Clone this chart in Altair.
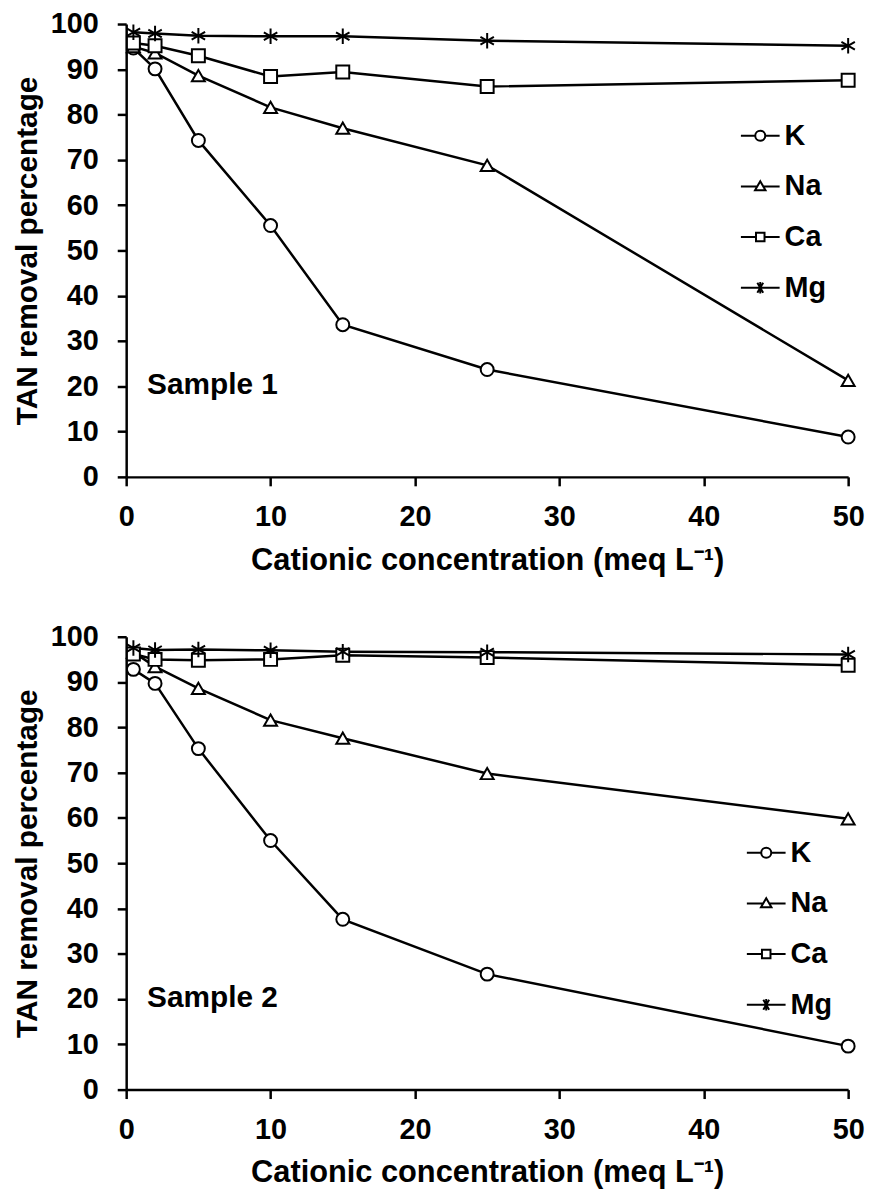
import altair as alt
import pandas as pd

conc = [0.5, 2, 5, 10, 15, 25, 50]
ions = ["K", "Na", "Ca", "Mg"]

s1_K = [94.7, 90.1, 74.3, 55.5, 33.6, 23.7, 8.8]
s1_Na = [95.0, 93.6, 88.6, 81.6, 77.0, 68.8, 21.3]
s1_Ca = [95.8, 95.2, 93.0, 88.4, 89.4, 86.2, 87.6]
s1_Mg = [98.2, 97.9, 97.4, 97.3, 97.3, 96.3, 95.2]

s2_K = [92.8, 89.7, 75.3, 55.0, 37.6, 25.5, 9.6]
s2_Na = [96.6, 93.4, 88.6, 81.6, 77.6, 69.8, 59.8]
s2_Ca = [96.2, 95.0, 94.8, 95.0, 95.9, 95.4, 93.7]
s2_Mg = [97.5, 97.1, 97.2, 97.0, 96.7, 96.6, 96.1]

x_ticks = [0, 10, 20, 30, 40, 50]
y_ticks = [0, 10, 20, 30, 40, 50, 60, 70, 80, 90, 100]

FONT = "Liberation Sans"
X_TITLE = "Cationic concentration (meq L\u207b\u00b9)"
Y_TITLE = "TAN removal percentage"

STAR = "M0,-1.2L0,1.2M-1.04,-0.6L1.04,0.6M-1.04,0.6L1.04,-0.6"
plot_shapes = ["circle", "triangle-up", "square", STAR]

r = 0.26
LEG_K = (f"M-1,0L-{r},0M{r},0L1,0M{r},0A{r},{r},0,1,1,-{r},0A{r},{r},0,1,1,{r},0Z")
LEG_NA = "M-1,0L-0.15,0M0.15,0L1,0M0,-0.27L0.27,0.2L-0.27,0.2Z"
LEG_CA = "M-1,0L-0.22,0M0.22,0L1,0M-0.22,-0.22L0.22,-0.22L0.22,0.22L-0.22,0.22Z"
LEG_MG = "M-1,0L1,0M-0.15,-0.26L0.15,0.26M-0.15,0.26L0.15,-0.26M0,-0.3L0,0.3"
legend_shapes = [LEG_K, LEG_NA, LEG_CA, LEG_MG]


def make_df(series):
    rows = []
    for ion, vals in zip(ions, series):
        for c, v in zip(conc, vals):
            rows.append({"conc": c, "ion": ion, "val": v})
    return pd.DataFrame(rows)


def panel(df, label, leg_x, leg_y):
    base = alt.Chart(df)
    x = alt.X("conc:Q", scale=alt.Scale(domain=[0, 50], nice=False),
              axis=alt.Axis(values=x_ticks, title=X_TITLE, labelFlush=False,
                            labelOverlap=False, titlePadding=14,
                            titleFontSize=31, labelPadding=17))
    y = alt.Y("val:Q", scale=alt.Scale(domain=[0, 100], nice=False),
              axis=alt.Axis(values=y_ticks, title=Y_TITLE, titlePadding=8,
                            labelPadding=19))
    line = base.mark_line(color="black", strokeWidth=2.5).encode(
        x=x, y=y, detail="ion:N")
    pts = base.mark_point(filled=True, fill="white", stroke="black",
                          strokeWidth=2, size=170, opacity=1).encode(
        x=x, y=y,
        shape=alt.Shape("ion:N", scale=alt.Scale(domain=ions, range=plot_shapes),
                        legend=None))
    leg = base.transform_filter("datum.val < -1000").mark_point(
        filled=False, color="black", strokeWidth=2, opacity=1).encode(
        x=x, y=y,
        shape=alt.Shape("ion:N", scale=alt.Scale(domain=ions, range=legend_shapes),
                        legend=alt.Legend(orient="none", legendX=leg_x, legendY=leg_y,
                                          title=None, padding=0,
                                          labelFont=FONT, labelFontSize=29,
                                          labelFontWeight="bold", labelColor="black",
                                          labelOffset=4, symbolSize=1521,
                                          symbolStrokeWidth=2, symbolOpacity=1,
                                          symbolStrokeColor="black",
                                          rowPadding=15)))
    txt = alt.Chart(pd.DataFrame({"t": [label]})).mark_text(
        align="left", baseline="middle", font=FONT, fontSize=30,
        fontWeight="bold", color="black").encode(
        text="t:N", x=alt.value(21), y=alt.value(364))
    return alt.layer(line, pts, leg, txt).resolve_scale(shape="independent").properties(
        width=727, height=456)


top = panel(make_df([s1_K, s1_Na, s1_Ca, s1_Mg]), "Sample 1", 618, 92)
bottom = panel(make_df([s2_K, s2_Na, s2_Ca, s2_Mg]), "Sample 2", 624, 197)

chart = alt.vconcat(top, bottom, spacing=48).properties(
    padding={"left": 4, "top": -2, "right": 5, "bottom": 5}
).configure_view(stroke=None).configure_axis(
    grid=False, domainColor="black", domainWidth=2.5, tickColor="black",
    tickWidth=2.5, tickSize=9, labelFont=FONT, labelFontSize=29,
    labelFontWeight="bold", labelColor="black",
    titleFont=FONT, titleFontSize=30, titleFontWeight="bold",
    titleColor="black"
)

chart.save("out.html", embed_options={"renderer": "svg", "actions": False})
